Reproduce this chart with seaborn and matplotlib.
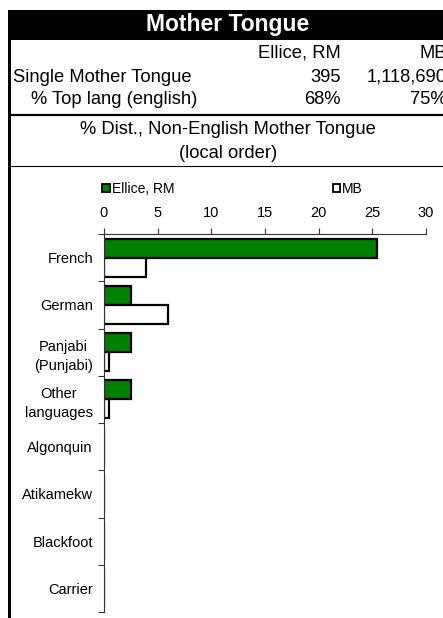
import matplotlib
matplotlib.use("Agg")
import matplotlib.pyplot as plt
from matplotlib.patches import Rectangle
from matplotlib.lines import Line2D
import seaborn as sns
import pandas as pd

# data
languages = ["French", "German", "Panjabi\n(Punjabi)", "Other\nlanguages",
             "Algonquin", "Atikamekw", "Blackfoot", "Carrier"]
ellice_rm = [25.4, 2.5, 2.5, 2.5, 0, 0, 0, 0]
mb = [3.9, 6.0, 0.5, 0.5, 0, 0, 0, 0]
series_names = ["Ellice, RM", "MB"]
series_colors = ["#008000", "#ffffff"]
x_ticks = [0, 5, 10, 15, 20, 25, 30]

header_cols = ["Ellice, RM", "MB"]
header_rows = ["Single Mother Tongue", "% Top lang (english)"]
header_vals = [["395", "1,118,690"], ["68%", "75%"]]

W, H = 443, 618
HDR = 13.2


def fx(px):
    return px / W


def fy(py):
    return 1 - py / H


df = pd.DataFrame({
    "lang": languages * 2,
    "value": ellice_rm + mb,
    "series": [series_names[0]] * len(languages) + [series_names[1]] * len(languages),
})

sns.set_theme(style="white")
plt.rcParams["font.family"] = ["Liberation Sans", "DejaVu Sans"]
plt.rcParams["text.color"] = "black"
plt.rcParams["xtick.color"] = "black"
plt.rcParams["ytick.color"] = "black"

fig = plt.figure(figsize=(W / 100, H / 100), dpi=100)
ax = fig.add_axes([fx(104), fy(612), fx(426) - fx(104), fy(234) - fy(612)])

sns.barplot(data=df, x="value", y="lang", hue="series", orient="h",
            palette=series_colors, saturation=1, edgecolor="black", linewidth=1.6,
            width=0.8, ax=ax, legend=True)

ax.set_xlim(0, 30)
ax.set_ylim(len(languages) - 0.5, -0.5)
ax.set_xticks(x_ticks)
ax.xaxis.tick_top()
ax.tick_params(axis="x", direction="out", length=4, width=0.8, color="#333333",
               labelsize=10.5, pad=6, top=True, bottom=False)
ax.set_yticks([i - 0.5 for i in range(len(languages) + 1)], minor=True)
ax.tick_params(axis="y", which="major", length=0, labelsize=10.5, pad=8)
ax.tick_params(axis="y", which="minor", direction="out", length=4, width=0.8,
               color="#333333", left=True)
ax.set_yticks(range(len(languages)))
ax.set_yticklabels(languages, linespacing=1.5, multialignment="center")
ax.set_xlabel("")
ax.set_ylabel("")
for s in ["right", "bottom"]:
    ax.spines[s].set_visible(False)
for s in ["top", "left"]:
    ax.spines[s].set_color("#333333")
    ax.spines[s].set_linewidth(0.8)

handles, labels = ax.get_legend_handles_labels()
ax.get_legend().remove()
for h in handles:
    h.set_linewidth(1.3)
fig.legend(handles, labels, ncol=2, loc="center left",
           bbox_to_anchor=(fx(102), fy(189)), frameon=False, fontsize=10,
           handlelength=0.55, handleheight=0.55, handletextpad=0.15,
           columnspacing=11.4, borderaxespad=0, borderpad=0)

# header block
fig.add_artist(Rectangle((fx(8), fy(40)), fx(443) - fx(8), fy(10) - fy(40),
                         transform=fig.transFigure, facecolor="black", edgecolor="none"))
fig.add_artist(Rectangle((fx(8), 0), fx(11) - fx(8), fy(10),
                         transform=fig.transFigure, facecolor="black", edgecolor="none"))
fig.text(fx(228), fy(25), "Mother Tongue", color="white", fontsize=16.5,
         fontweight="bold", ha="center", va="center")

fig.text(fx(341), fy(53), header_cols[0], fontsize=HDR, ha="right", va="center")
fig.text(fx(447), fy(53), header_cols[1], fontsize=HDR, ha="right", va="center")
fig.text(fx(13), fy(77), header_rows[0], fontsize=HDR, ha="left", va="center")
fig.text(fx(31), fy(100), header_rows[1], fontsize=HDR, ha="left", va="center")
for r, yy in zip(header_vals, [77, 100]):
    fig.text(fx(341), fy(yy), r[0], fontsize=HDR, ha="right", va="center")
    fig.text(fx(447), fy(yy), r[1], fontsize=HDR, ha="right", va="center")

fig.add_artist(Line2D([fx(11), 1], [fy(115), fy(115)], color="black", linewidth=1.6,
                      transform=fig.transFigure))
fig.text(fx(228), fy(129), "% Dist., Non-English Mother Tongue", fontsize=HDR,
         ha="center", va="center")
fig.text(fx(228), fy(154), "(local order)", fontsize=HDR, ha="center", va="center")
fig.add_artist(Line2D([fx(11), 1], [fy(165.5), fy(165.5)], color="black", linewidth=0.8,
                      transform=fig.transFigure))

fig.savefig("out.png", dpi=100)
